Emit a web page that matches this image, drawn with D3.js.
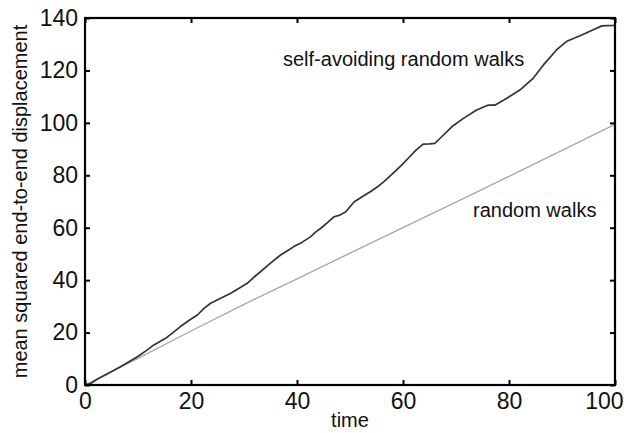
<!DOCTYPE html>
<html>
<head>
<meta charset="utf-8">
<script src="https://cdn.jsdelivr.net/npm/d3@7/dist/d3.min.js"></script>
<style>
  html, body { margin: 0; padding: 0; background: #fff; }
  svg { display: block; }
  text { font-family: "Liberation Sans", Arial, Helvetica, sans-serif; fill: #111; }
</style>
</head>
<body>
<svg id="chart" width="624" height="433"></svg>
<script>
// ---- data ----
const sawTime = [0, 1, 2.3, 4.5, 6.7, 8.3, 9.9, 11.5, 13, 15.2, 16.6, 18, 19.6, 21.2, 22.5, 23.7, 25.5, 27.5, 29, 30.6, 31.8, 33.1, 35, 36.9, 38.2, 39.4, 41, 42.6, 43.5, 44.5, 45.8, 47, 48.1, 49.2, 50.8, 52.3, 53.9, 55.2, 56.4, 58, 59.5, 61, 62.4, 63.8, 65, 66, 67.3, 69.2, 71.4, 73.9, 76.1, 77.4, 79.6, 82.1, 84.6, 86.5, 89, 90.9, 93.4, 95.9, 97.5, 99.7, 100];
const sawValues = [0, 0.5, 2.2, 4.6, 7, 8.9, 10.8, 13, 15.3, 17.8, 20, 22.3, 24.6, 26.7, 29.3, 31.2, 33, 35, 36.8, 38.8, 41, 43.2, 46.5, 49.6, 51.2, 52.8, 54.5, 56.6, 58.3, 59.8, 62, 64.2, 64.8, 66.1, 69.9, 71.8, 73.8, 75.6, 77.6, 80.5, 83.4, 86.5, 89.5, 91.9, 92, 92.2, 94.7, 98.5, 101.7, 104.9, 106.8, 106.8, 109.4, 112.6, 117.1, 122.1, 127.9, 131.1, 133.2, 135.5, 137, 137.2, 137.3];
const rwTime = [0, 10, 20, 30, 40, 50, 60, 70, 80, 90, 100];
const rwValues = [0, 10.2, 20.6, 30.8, 40.5, 50.3, 60, 69.8, 79.6, 89.5, 99.4];
const xTicks = [0, 20, 40, 60, 80, 100];
const yTicks = [0, 20, 40, 60, 80, 100, 120, 140];
const labelSAW = "self-avoiding random walks";
const labelRW = "random walks";
const xTitle = "time";
const yTitle = "mean squared end-to-end displacement";

// ---- layout ----
const L = 85, R = 615, T = 18, B = 385;
const svg = d3.select("#chart");
const x = d3.scaleLinear().domain([0, 100]).range([L, R]);
const y = d3.scaleLinear().domain([0, 140]).range([B, T]);

// curves
const line = d3.line().x(d => x(d[0])).y(d => y(d[1]));
svg.append("path")
  .datum(rwTime.map((t, i) => [t, rwValues[i]]))
  .attr("d", line).attr("fill", "none")
  .attr("stroke", "#a8a8a8").attr("stroke-width", 1.4);
svg.append("path")
  .datum(sawTime.map((t, i) => [t, sawValues[i]]))
  .attr("d", line).attr("fill", "none")
  .attr("stroke", "#333").attr("stroke-width", 1.7)
  .attr("stroke-linejoin", "round");

// axes (ticks inward, mirrored)
const tk = 5;
const tfs = 23;
const fs = 20;
svg.append("g").attr("class", "xaxis").attr("transform", `translate(0,${B})`)
  .call(d3.axisBottom(x).tickValues(xTicks).tickSize(-tk).tickPadding(8).tickFormat(d3.format("d")));
svg.append("g").attr("transform", `translate(0,${T})`)
  .call(d3.axisTop(x).tickValues(xTicks).tickSize(-tk).tickFormat(""));
svg.append("g").attr("transform", `translate(${L},0)`)
  .call(d3.axisLeft(y).tickValues(yTicks).tickSize(-tk).tickPadding(7).tickFormat(d3.format("d")));
svg.append("g").attr("transform", `translate(${R},0)`)
  .call(d3.axisRight(y).tickValues(yTicks).tickSize(-tk).tickFormat(""));

svg.selectAll(".domain").remove();
svg.selectAll(".tick line").attr("stroke", "#000").attr("stroke-width", 2);
svg.selectAll(".tick text")
  .attr("font-family", '"Liberation Sans", Arial, sans-serif')
  .attr("font-size", tfs).attr("fill", "#111");
// keep the last x label inside the picture, as in the reference
svg.selectAll(".xaxis .tick text").filter(d => d === 100)
  .attr("text-anchor", "end").attr("x", 623 - x(100));

// frame
svg.append("rect").attr("x", L).attr("y", T).attr("width", R - L).attr("height", B - T)
  .attr("fill", "none").attr("stroke", "#000").attr("stroke-width", 2.2);

// labels
svg.append("text").attr("x", 283).attr("y", 66).attr("font-size", fs).text(labelSAW);
svg.append("text").attr("x", 473).attr("y", 217).attr("font-size", fs).text(labelRW);
svg.append("text").attr("x", (L + R) / 2).attr("y", 427).attr("text-anchor", "middle")
  .attr("font-size", fs).text(xTitle);
svg.append("text").attr("transform", `translate(27,${(T + B) / 2}) rotate(-90)`)
  .attr("text-anchor", "middle").attr("font-size", fs).text(yTitle);
</script>
</body>
</html>
